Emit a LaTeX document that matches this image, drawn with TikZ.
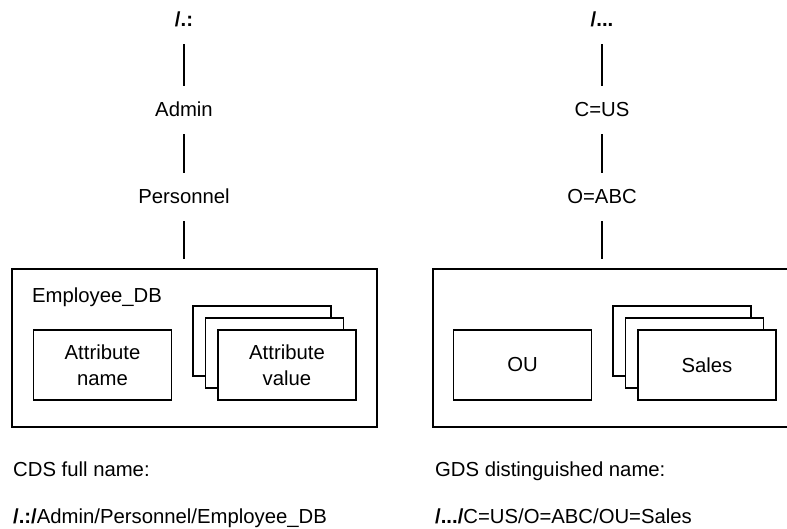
\documentclass[tikz,border=0pt]{standalone}
\usepackage{fontspec}
\setmainfont{Liberation Sans}
\usetikzlibrary{positioning}
\tikzset{
  lvl/.style={inner sep=0pt,text height=14pt,text depth=0pt,minimum height=48pt},
  link/.style={line width=1.3pt},
  cell/.style={draw,line width=1.3pt,fill=white,align=center,minimum width=138pt,minimum height=70pt,inner sep=0pt},
  outer/.style={draw,line width=1.3pt,minimum height=158pt,inner sep=0pt},
  txt/.style={anchor=base west,inner sep=0pt}
}
\begin{document}
\begin{tikzpicture}[x=1pt,y=-1pt,every node/.style={font=\fontsize{20.3}{26}\selectfont}]
\clip (0,0) rectangle (787,529);
\fill[white] (0,0) rectangle (787,529);
% CDS side
\node[lvl] (croot) at (184,20) {\textbf{/.:}};
\node[lvl] (admin) at (184,110) {Admin};
\node[lvl] (pers) at (184,197) {Personnel};
\node[outer,minimum width=365pt] (lbox) at (194.5,348) {};
\node[txt] (edb) at (32,302) {Employee\_DB};
\node[cell] (aname) at (102.5,365) {Attribute\\name};
\node[cell] (aval3) at (262,341) {};
\node[cell] (aval2) at (274.5,353) {};
\node[cell] (aval) at (287,365) {Attribute\\value};
\draw[link] (croot) -- (admin);
\draw[link] (admin) -- (pers);
\draw[link,shorten >=9pt] (pers) -- (pers |- lbox.north);
% GDS side
\node[lvl] (groot) at (602,20) {\textbf{/...}};
\node[lvl] (cus) at (602,110) {C=US};
\node[lvl] (oabc) at (602,197) {O=ABC};
\node[outer,minimum width=367pt] (rbox) at (616.5,348) {};
\node[cell] (ou) at (522.5,365) {OU};
\node[cell] (sales3) at (682,341) {};
\node[cell] (sales2) at (694.5,353) {};
\node[cell] (sales) at (707,365) {Sales};
\draw[link] (groot) -- (cus);
\draw[link] (cus) -- (oabc);
\draw[link,shorten >=9pt] (oabc) -- (oabc |- rbox.north);
% full names
\node[txt] (cdslab) at (13,476) {CDS full name:};
\node[txt] (cdsname) at (13,523) {\textbf{/.:/}Admin/Personnel/Employee\_DB};
\node[txt] (gdslab) at (435,476) {GDS distinguished name:};
\node[txt] (gdsname) at (435,523) {\textbf{/.../}C=US/O=ABC/OU=Sales};
\end{tikzpicture}
\end{document}
